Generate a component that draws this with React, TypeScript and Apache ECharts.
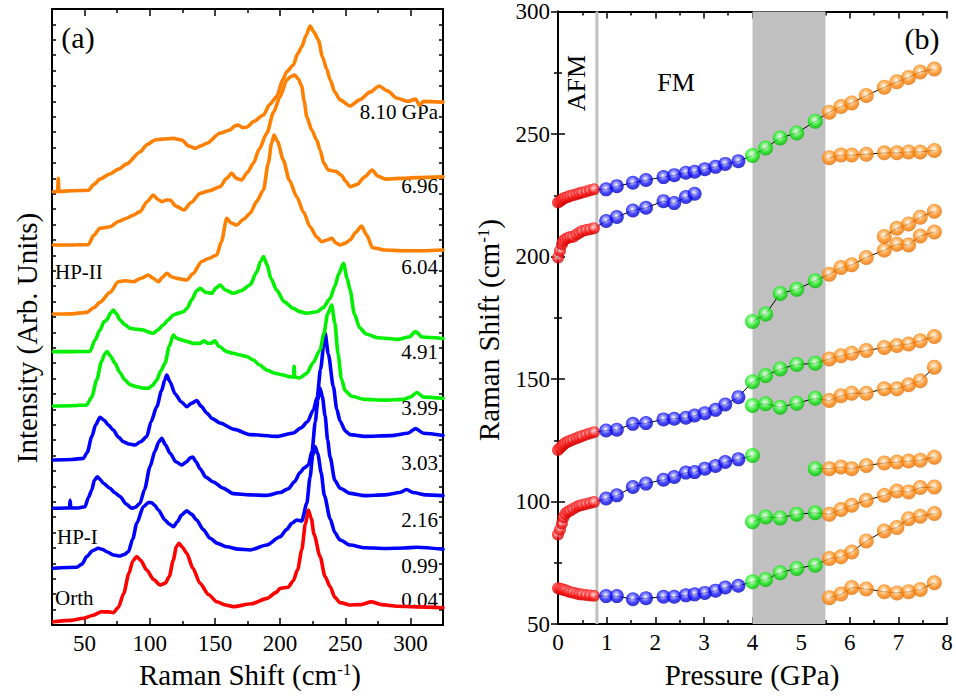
import { useEffect, useRef } from "react";
import * as echarts from "echarts";

const FONT = "'Liberation Serif', 'Times New Roman', serif";
const RED = "#ff0000";
const BLUE = "#0000ff";
const GREEN = "#00f000";
const ORANGE = "#ff8000";

// ---------- Panel (a): Raman spectra, [Raman shift (cm-1), stacked intensity (arb. units)]
const SPEC_0_04: [number, number][] = [
  [26, 0.21], [40, 0.3], [49, 0.44], [56, 0.62], [63, 0.86], [68, 0.85], [72, 0.8], [76, 1.15], [80, 2.05],
  [84, 3.35], [87, 4.15], [90, 4.44], [93, 4.2], [97.7, 3.57], [103, 2.95], [107.9, 2.6], [112, 2.72], [115, 3.15],
  [118, 4.2], [120.5, 5.1], [122.5, 5.31], [125, 5.05], [128.4, 4.66], [133, 3.7], [138.6, 2.71], [145, 1.98],
  [151.4, 1.51], [158, 1.3], [164, 1.19], [178, 1.38], [190, 1.73], [197, 2.12], [200, 2.38], [206, 2.45],
  [210, 2.85], [213.5, 3.6], [216.6, 4.87], [219.5, 6.6], [221.7, 7.47], [224, 6.9], [226, 5.9], [230.7, 4.44],
  [234.5, 3.15], [238.4, 2.49], [242, 1.8], [246, 1.45], [253.7, 1.3], [262, 1.32], [270, 1.5], [278, 1.32],
  [290, 1.22], [305, 1.18], [325, 1.12],
];
const SPEC_0_99: [number, number][] = [
  [26, 3.68], [44, 3.75], [48, 3.95], [51.6, 4.44], [56, 4.82], [60.5, 4.98], [64, 4.9], [67, 4.76], [72, 4.55],
  [77.2, 4.48], [80.5, 4.58], [83.6, 4.76], [87, 5.6], [90, 6.6], [95.1, 7.68], [99, 7.95], [101.5, 7.94],
  [104, 7.75], [106.6, 7.47], [111.7, 6.82], [115, 6.55], [118.1, 6.38], [121, 6.68], [124.5, 7.15], [128.4, 7.42],
  [132, 7.2], [136, 6.82], [141, 6.2], [146.3, 5.63], [152, 5.3], [159.1, 5.08], [168, 4.93], [177, 4.87],
  [189.8, 5.19], [200, 5.73], [205, 6.2], [209, 6.6], [212.8, 6.82], [216.6, 6.75], [220.5, 7.9], [223, 9.6],
  [225, 11.0], [226.8, 11.58], [229, 11.1], [231.5, 9.9], [234, 8.4], [238.4, 6.9], [242, 6.0], [246, 5.52],
  [253.7, 5.19], [265, 5.02], [280, 4.97], [295, 5.0], [305, 5.05], [325, 4.92],
];
const SPEC_2_16: [number, number][] = [
  [26, 7.58], [36, 7.6], [38.4, 7.6], [38.9, 8.1], [39.4, 7.6], [45, 7.6], [50.3, 7.68], [53, 8.3], [55.5, 8.77],
  [57.5, 9.4], [59.8, 9.63], [62, 9.45], [64.4, 9.2], [69.5, 8.88], [73, 8.6], [77.2, 8.34], [82, 7.85],
  [86.2, 7.58], [89, 7.65], [92.5, 7.9], [96, 8.8], [100.2, 10.28], [104, 11.3], [107, 11.9], [109.2, 12.13],
  [112, 11.7], [115.6, 11.15], [120, 10.6], [124.5, 10.39], [128.4, 10.6], [131, 10.85], [133, 10.91],
  [135.5, 10.6], [138.6, 10.15], [143, 9.6], [148.8, 9.29], [156, 8.9], [164.1, 8.53], [177, 8.45], [189.8, 8.42],
  [200, 8.6], [206.4, 8.85], [211, 9.3], [215.3, 9.9], [218.5, 10.2], [221.7, 10.39], [224.5, 11.3], [227, 13.2],
  [229, 14.6], [230.7, 15.37], [232.5, 14.8], [234.5, 13.6], [236.5, 12.0], [238.4, 10.9], [242, 9.4],
  [246, 8.88], [253.7, 8.55], [265, 8.4], [280, 8.45], [292, 8.6], [297, 8.8], [302, 8.6], [312, 8.45], [325, 8.4],
];
const SPEC_3_03: [number, number][] = [
  [26, 10.71], [40, 10.75], [49, 10.82], [52, 11.2], [55.5, 12.23], [58.5, 13.0], [61.8, 13.49], [65, 13.3],
  [68.2, 12.99], [72, 12.66], [76, 12.2], [79.7, 11.9], [84, 11.75], [88.7, 11.69], [93, 11.9], [97.7, 12.23],
  [101, 13.2], [105.4, 14.18], [109, 15.2], [111.5, 15.9], [113, 16.23], [115.5, 15.8], [119.4, 15.02],
  [124, 14.5], [128.4, 14.18], [132, 14.4], [136, 14.57], [139.5, 14.2], [143.7, 13.77], [148, 13.4],
  [153.9, 13.12], [165, 12.7], [177, 12.36], [197.4, 12.25], [210.2, 12.47], [216, 12.8], [221, 13.2],
  [225.5, 13.96], [228.5, 14.8], [231, 16.6], [234.5, 18.96], [237, 17.6], [240.9, 15.47], [243.5, 14.0],
  [246, 13.25], [250, 12.6], [253.7, 12.36], [265, 12.25], [285, 12.3], [298, 12.45], [304, 12.75], [310, 12.45],
  [325, 12.3],
];
const SPEC_3_99: [number, number][] = [
  [26, 14.22], [40, 14.24], [51.6, 14.29], [55.5, 14.8], [59.3, 15.91], [63, 17.1], [65.5, 17.6], [67.2, 17.75],
  [70, 17.45], [73.4, 16.99], [77, 16.4], [81, 15.91], [85, 15.6], [90, 15.47], [95, 15.38], [98.9, 15.37],
  [102, 15.55], [105.4, 15.91], [108.5, 16.5], [111.7, 16.99], [115, 18.1], [118.1, 18.83], [121, 18.6],
  [124.5, 18.51], [129, 18.4], [133.4, 18.29], [138.6, 18.29], [141.5, 18.45], [144.5, 18.3], [147, 18.3],
  [150, 18.45], [153, 18.1], [159.1, 17.75], [164, 17.65], [169.3, 17.53], [174, 17.45], [179.5, 17.21],
  [184, 16.9], [189.8, 16.56], [196, 16.35], [202.5, 16.23], [207, 16.12], [210.3, 16.1], [210.8, 16.8],
  [211.3, 16.1], [215, 16.05], [220.5, 16.34], [225, 17.0], [230.7, 17.86], [233.5, 18.9], [236.5, 20.2],
  [239.6, 20.78], [242, 19.6], [244.5, 17.6], [247, 16.0], [250, 15.2], [255, 14.85], [265, 14.65], [280, 14.6],
  [295, 14.65], [300, 14.8], [305, 15.1], [310, 14.8], [325, 14.72],
];
const SPEC_4_91: [number, number][] = [
  [26, 17.75], [40, 17.75], [54.2, 17.77], [58, 18.5], [61.8, 19.16], [65, 19.7], [67, 19.81], [70, 20.25],
  [72, 20.45], [74.5, 20.2], [77.2, 19.81], [81, 19.5], [84.9, 19.27], [90, 19.2], [95.1, 19.16], [99, 19.02],
  [102.7, 18.94], [106, 19.15], [110.4, 19.48], [114, 19.8], [118.1, 20.13], [122, 20.25], [125.8, 20.34],
  [129, 20.6], [132, 21.1], [136, 21.7], [138.6, 21.86], [143, 21.6], [147.6, 21.54], [151, 21.9], [154, 22.08],
  [158, 21.75], [164.1, 21.54], [170, 21.7], [177, 22.08], [182, 22.9], [185, 23.6], [187.2, 23.92], [190, 23.4],
  [193, 22.5], [197.4, 21.75], [203, 21.0], [210.2, 20.56], [215, 20.35], [220.5, 20.24], [228.1, 20.34],
  [233, 20.6], [238.4, 21.2], [242, 22.0], [245, 22.8], [248.6, 23.49], [251.5, 22.5], [253.7, 21.75],
  [257, 20.2], [261, 19.3], [266, 18.9], [275, 18.65], [290, 18.55], [299, 18.7], [304, 19.05], [309, 18.7],
  [325, 18.6],
];
const SPEC_6_04: [number, number][] = [
  [26, 20.19], [40, 20.2], [51.6, 20.3], [57, 20.6], [61.8, 20.95], [69.5, 21.6], [75.9, 22.29], [81, 22.35],
  [87.4, 22.29], [93, 22.5], [98.9, 22.73], [102, 22.55], [106.6, 22.29], [110, 22.6], [113, 22.84], [117, 22.6],
  [120.7, 22.51], [128.4, 22.4], [133, 22.8], [139.9, 23.6], [145, 23.8], [151.4, 24.03], [155, 24.9],
  [159.1, 26.41], [162.5, 26.1], [166.7, 25.97], [172, 26.35], [177, 26.73], [182, 27.5], [187.2, 28.25],
  [191, 30.0], [193.5, 31.3], [195.4, 31.82], [198, 31.4], [202.5, 30.19], [207, 28.9], [212.8, 27.81],
  [218, 26.8], [223, 25.86], [228, 25.2], [232, 24.89], [236, 25.0], [239.7, 25.11], [243, 24.8], [246, 24.68],
  [250, 24.8], [253.7, 25.0], [258, 25.5], [262.5, 25.91], [266.5, 25.3], [271, 24.5], [280, 24.35], [295, 24.3],
  [310, 24.3], [325, 24.35],
];
const SPEC_6_96: [number, number][] = [
  [26, 24.68], [40, 24.68], [52.9, 24.7], [57, 25.3], [61.8, 25.76], [65, 25.8], [69.5, 25.86], [76, 26.2],
  [82.3, 26.41], [87, 26.6], [92.5, 26.84], [98, 27.5], [102.7, 27.92], [106, 27.65], [109.2, 27.49], [113, 27.6],
  [115.6, 27.6], [120, 27.2], [126.2, 26.95], [132, 27.45], [138.6, 28.03], [146, 28.2], [153.9, 28.46],
  [159, 29.0], [162.8, 29.33], [166.5, 29.0], [170.5, 28.9], [175, 29.4], [179.5, 29.98], [184, 30.9],
  [189.8, 31.93], [195, 33.3], [200, 34.31], [205.1, 35.38], [208, 35.6], [211.2, 35.71], [214, 35.45],
  [216.6, 35.0], [218.5, 34.0], [220.5, 33.0], [224.3, 32.14], [228.1, 31.49], [230.7, 30.84], [233.5, 30.0],
  [237, 29.55], [243, 29.45], [247, 29.2], [250.5, 28.8], [253.7, 28.46], [259, 28.6], [265, 29.1], [270.6, 29.55],
  [275, 29.15], [281, 28.95], [292, 29.0], [305, 29.05], [325, 29.1],
];
const SPEC_8_10: [number, number][] = [
  [26, 28.13], [29.3, 28.15], [29.8, 29.0], [30.3, 28.15], [40, 28.2], [52.9, 28.23], [57, 28.6], [61.8, 28.96],
  [69.5, 29.29], [76, 29.6], [82.3, 29.94], [92.5, 30.71], [98, 31.2], [104, 31.49], [110, 31.55], [118.1, 31.6],
  [124.5, 31.49], [130, 31.1], [134.7, 30.95], [139, 31.1], [143.7, 31.28], [153.9, 31.93], [161.6, 32.14],
  [165, 32.4], [168, 32.47], [171, 32.3], [174.4, 32.32], [180, 32.7], [187.2, 33.12], [192, 33.8], [197.4, 34.31],
  [202, 35.4], [205.1, 35.93], [210.2, 36.36], [213.5, 37.1], [216.6, 37.55], [220, 38.3], [223, 38.9],
  [226, 38.5], [229.4, 37.99], [232.5, 36.9], [235.8, 36.1], [238.4, 35.4], [242, 34.6], [246, 34.1], [253.7, 33.7],
  [261, 34.1], [269, 34.6], [276, 35.0], [282, 34.7], [290, 34.2], [298, 34.0], [304, 34.15], [307, 33.75],
  [310, 34.0], [325, 33.95],
];

const SPECTRA = [
  { data: SPEC_0_04, color: RED },
  { data: SPEC_0_99, color: BLUE },
  { data: SPEC_2_16, color: BLUE },
  { data: SPEC_3_03, color: BLUE },
  { data: SPEC_3_99, color: GREEN },
  { data: SPEC_4_91, color: GREEN },
  { data: SPEC_6_04, color: ORANGE },
  { data: SPEC_6_96, color: ORANGE },
  { data: SPEC_8_10, color: ORANGE },
];
const SHIFT_MAJOR = [50, 100, 150, 200, 250, 300];
const SHIFT_MINOR = [75, 125, 175, 225, 275];

// ---------- Panel (b): mode frequencies (cm-1) against pressure (GPa)
const P_AFM = [0.0, 0.04, 0.08, 0.11, 0.15, 0.2, 0.25, 0.31, 0.38, 0.44, 0.5, 0.58, 0.66, 0.74];
const P_FM = [0.99, 1.21, 1.54, 1.81, 2.17, 2.39, 2.63, 2.81, 3.02, 3.24, 3.44, 3.71];
const P_MIX = [4.0, 4.27, 4.57, 4.91, 5.29];
const P_HP2 = [5.58, 5.82, 6.04, 6.34, 6.71, 6.97, 7.21, 7.45, 7.74];

type V = number | null;
type Branch = { afm?: V[]; fm?: V[]; mix?: V[]; hp2?: V[] };

const MODE_1: Branch = {
  afm: [222.0, 222.6, 223.2, 223.7, 224.0, 224.3, 224.8, 225.0, 225.4, 225.8, 226.1, 226.5, 227.0, 227.4],
  fm: [227.4, 228.7, 230.1, 231.2, 232.4, 233.2, 234.2, 234.6, 235.6, 236.6, 237.8, 238.9],
  mix: [241.2, 244.3, 248.4, 250.4, 255.2],
  hp2: [258.9, 261.2, 262.7, 265.7, 269.1, 271.3, 273.1, 275.3, 276.5],
};
const MODE_2: Branch = {
  afm: [199.6, 202.3, 205.0, 206.3, 207.1, 207.5, 208.0, 208.0, 209.0, 209.7, 210.4, 210.8, 211.1, 211.5],
  fm: [214.5, 216.1, 218.8, 219.9, 222.6, 221.8, 224.3, 225.6, null, null, null, null],
};
const MODE_3: Branch = {
  hp2: [240.3, 241.4, 241.4, 241.7, 242.3, 242.3, 242.7, 242.7, 243.3],
};
const MODE_4: Branch = {
  mix: [173.5, 176.5, 184.9, 186.6, 190.1],
  hp2: [192.8, 195.5, 196.6, 199.6, 202.6, 205.0, 204.7, 208.4, 210.0],
};
const MODE_5: Branch = {
  hp2: [null, null, null, null, 208.2, 211.5, 213.3, 216.0, 218.5],
};
const MODE_6: Branch = {
  afm: [121.0, 121.8, 122.6, 123.3, 123.9, 124.4, 124.8, 125.3, 125.8, 126.3, 126.7, 127.3, 127.8, 128.3],
  fm: [129.0, 129.3, 131.7, 132.0, 133.5, 133.8, 134.2, 135.1, 136.0, 137.4, 139.6, 142.6],
  mix: [148.9, 151.4, 154.1, 155.9, 156.4],
  hp2: [158.2, 159.5, 160.5, 161.6, 162.9, 163.7, 164.3, 165.6, 167.3],
};
const MODE_7: Branch = {
  mix: [139.2, 139.9, 138.5, 140.1, 142.1],
  hp2: [141.2, 143.2, 144.2, 144.2, 146.0, 146.0, 147.7, 149.3, 154.8],
};
const MODE_8: Branch = {
  afm: [86.5, 88.5, 91.0, 93.5, 95.0, 95.8, 96.3, 97.0, 97.8, 98.3, 98.6, 99.0, 99.4, 99.8],
  fm: [101.2, 102.5, 105.9, 107.3, 108.9, 110.0, 111.8, 112.0, 113.4, 114.5, 116.1, 117.2],
  mix: [118.8, null, null, null, null],
};
const MODE_9: Branch = {
  mix: [91.7, 93.7, 93.3, 94.8, 95.4],
  hp2: [94.8, 96.7, 98.5, 100.5, 102.5, 104.3, 103.9, 105.7, 105.9],
};
const MODE_10: Branch = {
  mix: [null, null, null, null, 113.4],
  hp2: [113.4, 114.1, 113.4, 114.7, 115.7, 116.1, 116.5, 116.8, 118.1],
};
const MODE_11: Branch = {
  afm: [64.6, 64.4, 64.2, 64.0, 63.8, 63.4, 63.0, 62.8, 62.4, 62.1, 62.0, 61.8, 61.6, 61.5],
  fm: [61.4, 61.4, 60.1, 60.5, 61.1, 61.1, 61.7, 62.1, 62.7, 63.6, 64.9, 65.6],
  mix: [67.2, 68.2, 70.9, 72.7, 74.0],
  hp2: [76.7, 77.4, 79.4, 83.9, 88.0, 89.4, 93.0, 94.0, 95.1],
};
const MODE_12: Branch = {
  hp2: [60.7, 62.2, 64.9, 64.3, 63.2, 62.7, 63.2, 64.1, 66.8],
};
const MODES = [MODE_1, MODE_2, MODE_3, MODE_4, MODE_5, MODE_6, MODE_7, MODE_8, MODE_9, MODE_10, MODE_11, MODE_12];

// shaded pressure windows: the AFM/FM boundary and the mixed-phase region
const AFM_FM_EDGE = [0.77, 0.83];
const MIXED_REGION = [4.0, 5.5];

function sphere(light: string, base: string, dark: string) {
  return new echarts.graphic.RadialGradient(0.46, 0.4, 0.62, [
    { offset: 0, color: "#ffffff" },
    { offset: 0.22, color: light },
    { offset: 0.6, color: base },
    { offset: 1, color: dark },
  ]);
}

const PHASES: { key: keyof Branch; pressures: number[]; size: number; fill: () => any }[] = [
  { key: "afm", pressures: P_AFM, size: 12, fill: () => sphere("#ffb0b0", "#ff1a1a", "#c40000") },
  { key: "fm", pressures: P_FM, size: 14, fill: () => sphere("#9a9aff", "#1414ff", "#0000b0") },
  { key: "mix", pressures: P_MIX, size: 15, fill: () => sphere("#a8ffa8", "#1cf01c", "#00b000") },
  { key: "hp2", pressures: P_HP2, size: 15, fill: () => sphere("#ffcc90", "#ff8a12", "#e06800") },
];

function branchPoints(b: Branch): [number, number][] {
  const pts: [number, number][] = [];
  PHASES.forEach((ph) => {
    const vals = b[ph.key];
    if (!vals) return;
    vals.forEach((v, i) => {
      if (v != null) pts.push([ph.pressures[i], v]);
    });
  });
  return pts;
}

function phasePoints(key: keyof Branch, pressures: number[]): [number, number][] {
  const pts: [number, number][] = [];
  MODES.forEach((b) => {
    const vals = b[key];
    if (!vals) return;
    vals.forEach((v, i) => {
      if (v != null) pts.push([pressures[i], v]);
    });
  });
  return pts;
}

const AXIS_LINE = { lineStyle: { color: "#000", width: 2 } };
const TICK_STYLE = { color: "#000", width: 1.5 };
const LABEL = { color: "#000", fontFamily: FONT, fontSize: 23 };

function txt(text: string, x: number, y: number, size: number, align = "center", rotation = 0, rich?: any) {
  return {
    type: "text",
    x,
    y,
    rotation,
    silent: true,
    style: {
      text,
      fill: "#000",
      fontFamily: FONT,
      fontSize: size,
      align,
      verticalAlign: "middle",
      rich,
    },
  };
}

const SUP = { sup: { fontFamily: FONT, fontSize: 17, verticalAlign: "top", lineHeight: 29 } };

function buildOption(): any {
  const shiftAxis = (position: string, major: boolean, labels: boolean) => ({
    gridIndex: 0,
    type: "value",
    position,
    min: 25,
    max: 325,
    interval: 25,
    axisLine: major ? AXIS_LINE : { show: false },
    axisTick: {
      show: true,
      inside: true,
      length: major ? 7 : 4,
      customValues: major ? SHIFT_MAJOR : SHIFT_MINOR,
      lineStyle: TICK_STYLE,
    },
    axisLabel: labels ? { ...LABEL, margin: 7, customValues: SHIFT_MAJOR } : { show: false },
    splitLine: { show: false },
  });
  const intensityAxis = (position: string) => ({
    gridIndex: 0,
    type: "value",
    position,
    min: 0,
    max: 40,
    interval: 1,
    axisLine: AXIS_LINE,
    axisTick: { show: true, inside: true, length: 4, lineStyle: TICK_STYLE },
    axisLabel: { show: false },
    splitLine: { show: false },
  });
  const pressureAxis = (position: string, labels: boolean) => ({
    gridIndex: 1,
    type: "value",
    position,
    min: 0,
    max: 8,
    interval: 1,
    axisLine: AXIS_LINE,
    axisTick: { show: true, inside: true, length: 7, lineStyle: TICK_STYLE },
    minorTick: { show: true, splitNumber: 2, length: 4, lineStyle: TICK_STYLE },
    axisLabel: labels ? { ...LABEL, margin: 7 } : { show: false },
    splitLine: { show: false },
    minorSplitLine: { show: false },
  });
  const freqAxis = (position: string, labels: boolean) => ({
    gridIndex: 1,
    type: "value",
    position,
    min: 50,
    max: 300,
    interval: 50,
    axisLine: AXIS_LINE,
    axisTick: { show: true, inside: true, length: 7, lineStyle: TICK_STYLE },
    minorTick: { show: true, splitNumber: 2, length: 4, lineStyle: TICK_STYLE },
    axisLabel: labels ? { ...LABEL, margin: 8 } : { show: false },
    splitLine: { show: false },
    minorSplitLine: { show: false },
  });

  const spectraSeries = SPECTRA.map((s) => ({
    type: "line",
    xAxisIndex: 0,
    yAxisIndex: 0,
    data: s.data,
    symbol: "none",
    showSymbol: false,
    smooth: 0.25,
    smoothMonotone: "x",
    silent: true,
    z: 2,
    lineStyle: { color: s.color, width: 3.6, join: "round", cap: "round" },
  }));

  const regionSeries = {
    type: "line",
    xAxisIndex: 4,
    yAxisIndex: 2,
    data: [],
    symbol: "none",
    silent: true,
    z: 1,
    lineStyle: { opacity: 0 },
    markArea: {
      silent: true,
      itemStyle: { color: "#c0c0c0" },
      data: [
        [{ xAxis: AFM_FM_EDGE[0] }, { xAxis: AFM_FM_EDGE[1] }],
        [{ xAxis: MIXED_REGION[0] }, { xAxis: MIXED_REGION[1] }],
      ],
    },
  };

  const linkSeries = MODES.map((b) => ({
    type: "line",
    xAxisIndex: 4,
    yAxisIndex: 2,
    data: branchPoints(b),
    symbol: "none",
    silent: true,
    z: 2,
    lineStyle: { color: "#000", width: 1 },
  }));

  const markerSeries = PHASES.map((ph) => ({
    type: "scatter",
    xAxisIndex: 4,
    yAxisIndex: 2,
    data: phasePoints(ph.key, ph.pressures),
    symbol: "circle",
    symbolSize: ph.size,
    silent: true,
    z: 3,
    itemStyle: { color: ph.fill(), borderWidth: 0 },
  }));

  const graphic = [
    txt("(a)", 78, 37, 30),
    txt("Intensity (Arb. Units)", 27, 338, 29, "center", Math.PI / 2),
    txt("Raman Shift (cm{sup|-1})", 250, 675, 29, "center", 0, SUP),
    txt("8.10 GPa", 438, 112, 21, "right"),
    txt("6.96", 438, 186, 21, "right"),
    txt("6.04", 438, 267, 21, "right"),
    txt("4.91", 438, 352, 21, "right"),
    txt("3.99", 438, 408, 21, "right"),
    txt("3.03", 438, 463, 21, "right"),
    txt("2.16", 438, 520, 21, "right"),
    txt("0.99", 438, 566, 21, "right"),
    txt("0.04", 438, 600, 21, "right"),
    txt("HP-II", 55, 272, 21, "left"),
    txt("HP-I", 57, 537, 21, "left"),
    txt("Orth", 55, 598, 21, "left"),
    txt("(b)", 922, 38, 30),
    txt("AFM", 576, 83, 26, "center", Math.PI / 2),
    txt("FM", 676, 82, 26),
    txt("Raman Shift (cm{sup|-1})", 489, 330, 29, "center", Math.PI / 2, SUP),
    txt("Pressure (GPa)", 752, 675, 29),
  ];

  return {
    animation: false,
    backgroundColor: "#ffffff",
    textStyle: { fontFamily: FONT },
    grid: [
      { left: 52, top: 9, width: 391, height: 616, containLabel: false },
      { left: 558, top: 10, width: 389, height: 614, containLabel: false },
    ],
    xAxis: [
      shiftAxis("bottom", true, true),
      shiftAxis("bottom", false, false),
      shiftAxis("top", true, false),
      shiftAxis("top", false, false),
      pressureAxis("bottom", true),
      pressureAxis("top", false),
    ],
    yAxis: [intensityAxis("left"), intensityAxis("right"), freqAxis("left", true), freqAxis("right", false)],
    series: [...spectraSeries, regionSeries, ...linkSeries, ...markerSeries],
    graphic,
  };
}

export default function App() {
  const ref = useRef<HTMLDivElement>(null);
  useEffect(() => {
    if (!ref.current) return;
    const chart = echarts.init(ref.current, undefined, { renderer: "svg" });
    chart.setOption(buildOption());
    return () => chart.dispose();
  }, []);
  return (
    <div
      ref={ref}
      style={{ position: "fixed", left: 0, top: 0, width: 956, height: 696, background: "#ffffff" }}
    />
  );
}
